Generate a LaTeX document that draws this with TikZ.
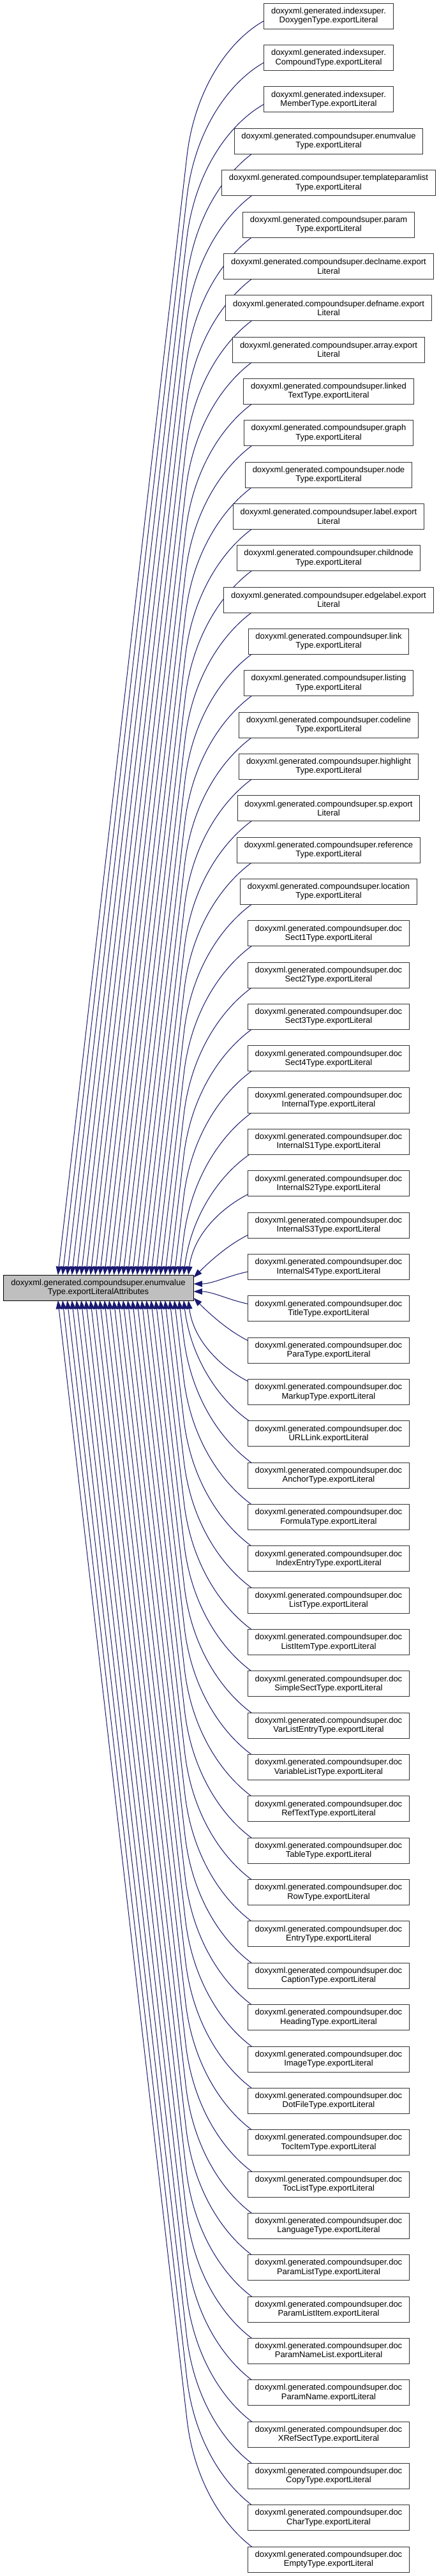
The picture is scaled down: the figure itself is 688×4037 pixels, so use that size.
\documentclass[tikz,border=0pt]{standalone}
\usepackage{fontspec}
\setmainfont{Liberation Sans}
\usetikzlibrary{arrows.meta,calc}
\pgfdeclarelayer{background}
\pgfsetlayers{background,main}
\definecolor{edgeblue}{HTML}{191970}
\definecolor{boxline}{HTML}{333333}
\definecolor{mainfill}{HTML}{BFBFBF}
\newcommand\dgfont{\fontsize{9.75}{10.7}\selectfont}
\newcommand\dgcs{doxyxml.generated.compoundsuper.}
\newcommand\dgrn[2]{\node[rbox] (n#1) at (515,{25.3+65.34*#1}) {#2};}
\newcommand\dgrd[2]{\dgrn{#1}{\dgcs doc\\#2.exportLiteral}}
\newcommand\dgedge[1]{%
  \ifnum#1<31\relax
    \pgfmathtruncatemacro\dgk{30-#1}\def\dgs{-1}\def\dgsn{1}\def\dgyS{1998}%
  \else
    \pgfmathtruncatemacro\dgk{#1-31}\def\dgs{1}\def\dgsn{-1}\def\dgyS{2038}%
  \fi
  \pgfmathsetmacro\dgyT{25.3+65.34*#1}%
  \ifnum\dgk=0\relax
    \coordinate (s#1) at ($(L.east)+(0,\dgs*6)$);%
    \draw[edge] (s#1) .. controls +(35,0) and +(-45,0) .. ($(n#1.center)+(-95,\dgsn*4)$);%
  \else\ifnum\dgk=1\relax
    \coordinate (s#1) at ($(L.east)+(0,\dgs*16)$);%
    \draw[edge] (s#1) .. controls +(25,\dgs*25) and +(-45,\dgsn*9) .. ($(n#1.center)+(-95,\dgsn*4)$);%
  \else
    \pgfmathsetmacro\dgxs{303-(\dgk-1)*7.3}%
    \coordinate (s#1) at ($(L.west)+(\dgxs-5,\dgs*20)$);%
    \pgfmathsetmacro\dgD{\dgs*(\dgyT-\dgyS)}%
    \pgfmathsetmacro\dgh{min(\dgD,220)}%
    \pgfmathsetmacro\dgxk{\dgxs+0.115*(\dgD-\dgh)}%
    \pgfmathsetmacro\dgyk{\dgyT+\dgsn*\dgh}%
    \pgfmathsetmacro\dgxa{\dgxk+0.0575*\dgh}%
    \pgfmathsetmacro\dgya{\dgyT+\dgsn*0.5*\dgh}%
    \pgfmathsetmacro\dgL{0.45*(420-\dgxk)}%
    \pgfmathsetmacro\dgm{min(0.5,0.1+0.1*\dgk)}%
    \pgfmathsetmacro\dgxb{420-\dgL}%
    \pgfmathsetmacro\dgyb{\dgyT+\dgsn*4+\dgsn*\dgm*\dgL}%
    \pgfmathtruncatemacro\dglong{\dgD>220?1:0}%
    \ifnum\dglong=1\relax
      \draw[edge] (s#1) -- (\dgxk,\dgyk) .. controls (\dgxa,\dgya) and (\dgxb,\dgyb) .. ($(n#1.center)+(-95,\dgsn*4)$);%
    \else
      \draw[edge] (s#1) .. controls (\dgxa,\dgya) and (\dgxb,\dgyb) .. ($(n#1.center)+(-95,\dgsn*4)$);%
    \fi
  \fi\fi
}
\begin{document}
\begin{tikzpicture}[x=0.75pt,y=-0.75pt,
  rbox/.style={draw=boxline, fill=white, line width=0.75pt, minimum height=30pt,
    inner xsep=8.5pt, inner ysep=0pt, align=center, font=\dgfont},
  lbox/.style={rbox, draw=black, fill=mainfill, minimum width=223.5pt},
  edge/.style={draw=edgeblue, line width=0.75pt, {Triangle[length=10pt,width=7pt]}-}]
\useasboundingbox (0,0) rectangle (688,4037);
\node[lbox] (L) at (154,2018) {\dgcs enumvalue\\Type.exportLiteralAttributes};
\dgrn{0}{doxyxml.generated.indexsuper.\\DoxygenType.exportLiteral}
\dgrn{1}{doxyxml.generated.indexsuper.\\CompoundType.exportLiteral}
\dgrn{2}{doxyxml.generated.indexsuper.\\MemberType.exportLiteral}
\dgrn{3}{\dgcs enumvalue\\Type.exportLiteral}
\dgrn{4}{\dgcs templateparamlist\\Type.exportLiteral}
\dgrn{5}{\dgcs param\\Type.exportLiteral}
\dgrn{6}{\dgcs declname.export\\Literal}
\dgrn{7}{\dgcs defname.export\\Literal}
\dgrn{8}{\dgcs array.export\\Literal}
\dgrn{9}{\dgcs linked\\TextType.exportLiteral}
\dgrn{10}{\dgcs graph\\Type.exportLiteral}
\dgrn{11}{\dgcs node\\Type.exportLiteral}
\dgrn{12}{\dgcs label.export\\Literal}
\dgrn{13}{\dgcs childnode\\Type.exportLiteral}
\dgrn{14}{\dgcs edgelabel.export\\Literal}
\dgrn{15}{\dgcs link\\Type.exportLiteral}
\dgrn{16}{\dgcs listing\\Type.exportLiteral}
\dgrn{17}{\dgcs codeline\\Type.exportLiteral}
\dgrn{18}{\dgcs highlight\\Type.exportLiteral}
\dgrn{19}{\dgcs sp.export\\Literal}
\dgrn{20}{\dgcs reference\\Type.exportLiteral}
\dgrn{21}{\dgcs location\\Type.exportLiteral}
\dgrd{22}{Sect1Type}
\dgrd{23}{Sect2Type}
\dgrd{24}{Sect3Type}
\dgrd{25}{Sect4Type}
\dgrd{26}{InternalType}
\dgrd{27}{InternalS1Type}
\dgrd{28}{InternalS2Type}
\dgrd{29}{InternalS3Type}
\dgrd{30}{InternalS4Type}
\dgrd{31}{TitleType}
\dgrd{32}{ParaType}
\dgrd{33}{MarkupType}
\dgrd{34}{URLLink}
\dgrd{35}{AnchorType}
\dgrd{36}{FormulaType}
\dgrd{37}{IndexEntryType}
\dgrd{38}{ListType}
\dgrd{39}{ListItemType}
\dgrd{40}{SimpleSectType}
\dgrd{41}{VarListEntryType}
\dgrd{42}{VariableListType}
\dgrd{43}{RefTextType}
\dgrd{44}{TableType}
\dgrd{45}{RowType}
\dgrd{46}{EntryType}
\dgrd{47}{CaptionType}
\dgrd{48}{HeadingType}
\dgrd{49}{ImageType}
\dgrd{50}{DotFileType}
\dgrd{51}{TocItemType}
\dgrd{52}{TocListType}
\dgrd{53}{LanguageType}
\dgrd{54}{ParamListType}
\dgrd{55}{ParamListItem}
\dgrd{56}{ParamNameList}
\dgrd{57}{ParamName}
\dgrd{58}{XRefSectType}
\dgrd{59}{CopyType}
\dgrd{60}{CharType}
\dgrd{61}{EmptyType}
\begin{pgfonlayer}{background}
\fill[white] (0,0) rectangle (688,4037);
\foreach \i in {0,...,61} {\dgedge{\i}}
\end{pgfonlayer}
\end{tikzpicture}
\end{document}
